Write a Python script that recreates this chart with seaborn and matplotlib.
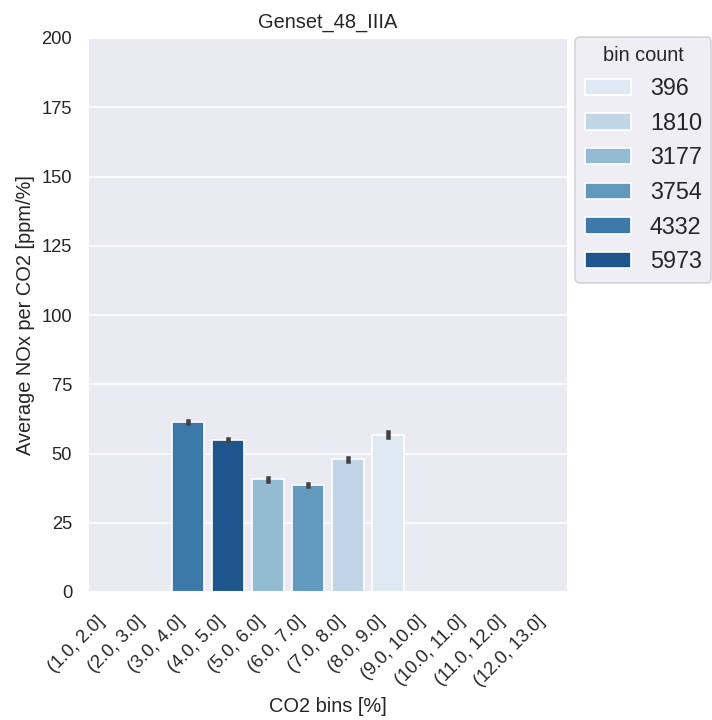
import matplotlib
matplotlib.use("Agg")
import matplotlib.pyplot as plt
import seaborn as sns
import pandas as pd

categories = ["(1.0, 2.0]", "(2.0, 3.0]", "(3.0, 4.0]", "(4.0, 5.0]", "(5.0, 6.0]",
              "(6.0, 7.0]", "(7.0, 8.0]", "(8.0, 9.0]", "(9.0, 10.0]", "(10.0, 11.0]",
              "(11.0, 12.0]", "(12.0, 13.0]"]
bins_present = ["(3.0, 4.0]", "(4.0, 5.0]", "(5.0, 6.0]", "(6.0, 7.0]", "(7.0, 8.0]", "(8.0, 9.0]"]
mean_nox = [61.4, 54.8, 40.7, 38.6, 47.9, 56.7]
ci_low = [60.9, 54.4, 40.2, 38.2, 47.4, 55.8]
ci_high = [61.9, 55.2, 41.2, 39.0, 48.4, 57.6]
bin_count = [4332, 5973, 3177, 3754, 1810, 396]

sns.set_theme(style="darkgrid")
plt.rcParams["font.family"] = ["Liberation Sans", "DejaVu Sans"]

df = pd.DataFrame({"bin": pd.Categorical(bins_present, categories=categories),
                   "nox": mean_nox,
                   "count": [str(c) for c in bin_count]})
hue_order = [str(c) for c in sorted(bin_count)]

fig = plt.figure(figsize=(712 / 120, 720 / 120), dpi=120)
ax = fig.add_axes([88 / 712, 1 - 592 / 720, 480 / 712, 554 / 720])

sns.barplot(data=df, x="bin", y="nox", hue="count", order=categories,
            hue_order=hue_order, palette="Blues", errorbar=None, dodge=False, ax=ax)

for b, lo, hi in zip(bins_present, ci_low, ci_high):
    i = categories.index(b)
    ax.plot([i, i], [lo, hi], color=".26", lw=2.7, solid_capstyle="projecting")

ax.set_xlim(-0.5, len(categories) - 0.5)
ax.set_ylim(0, 200)
ax.set_yticks(range(0, 201, 25))
ax.set_title("Genset_48_IIIA")
ax.set_xlabel("CO2 bins [%]")
ax.set_ylabel("Average NOx per CO2 [ppm/%]")
ax.tick_params(axis="x", pad=plt.rcParams["xtick.major.pad"] + 3)
plt.setp(ax.get_xticklabels(), rotation=45, ha="right")

sns.move_legend(ax, "upper left", bbox_to_anchor=(1.015, 1.002), title="bin count",
                fontsize=14, borderaxespad=0)

fig.savefig("out.png", dpi=120)
